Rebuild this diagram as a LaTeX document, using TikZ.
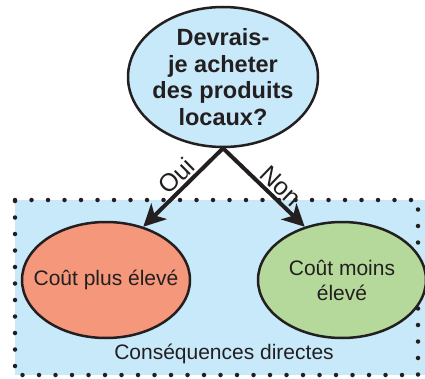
\documentclass[tikz,border=0pt]{standalone}
\usepackage{fontspec}
\setmainfont{Liberation Sans}
\usetikzlibrary{shapes.geometric,arrows.meta}

\definecolor{bleuclair}{RGB}{199,233,249}
\definecolor{saumon}{RGB}{245,151,122}
\definecolor{vertclair}{RGB}{181,217,155}
\definecolor{encre}{RGB}{35,31,32}

\begin{document}
\begin{tikzpicture}[
    x=1pt, y=1pt,
    % Ellipses avec contour noir (le texte est pose en etiquette au centre)
    bulle/.style={ellipse, draw=encre, line width=2.5pt, inner sep=0pt},
    texte/.style={text=encre, align=center, inner sep=0pt, font=\fontsize{21}{25}\selectfont},
    % Fleches epaisses
    fleche/.style={draw=encre, line width=4pt, -{Stealth[length=22pt, width=22pt, inset=6pt]}},
    etiquette/.style={text=encre, font=\fontsize{25}{25}\selectfont, sloped, above, inner sep=2pt}
]
    \useasboundingbox (0,0) rectangle (425,378);

    % ==========================================
    % 1. CADRE POINTILLE (Consequences)
    % ==========================================
    \fill[bleuclair] (15,3) rectangle (425,178);
    \draw[encre, line width=4.5pt, line cap=round, dash pattern=on 0pt off 16.5pt]
        (15,178) -- (418,178) -- (418,3) -- (15,3) -- cycle;
    \node[texte] (cadre) at (224,24) {Conséquences directes};

    % ==========================================
    % 2. QUESTION (en haut)
    % ==========================================
    \node[bulle, fill=bleuclair, minimum width=190pt, minimum height=140pt,
          label={[texte, font=\bfseries\fontsize{23.5}{26.5}\selectfont]center:Devrais-\\je acheter\\des produits\\locaux?}]
          (question) at (223,301) {};

    % ==========================================
    % 3. REPONSES (en bas)
    % ==========================================
    \node[bulle, fill=saumon, minimum width=168pt, minimum height=116pt,
          label={[texte]center:Coût plus élevé}] (plus) at (106,98) {};
    \node[bulle, fill=vertclair, minimum width=168pt, minimum height=116pt,
          label={[texte]center:Coût moins\\élevé}] (moins) at (342,98) {};

    % Fleches de la question vers les reponses
    \draw[fleche] (question.south) -- node[etiquette, pos=0.47] {Oui} (plus.55);
    \draw[fleche] (question.south) -- node[etiquette, pos=0.6] {Non} (moins.125);

\end{tikzpicture}
\end{document}
